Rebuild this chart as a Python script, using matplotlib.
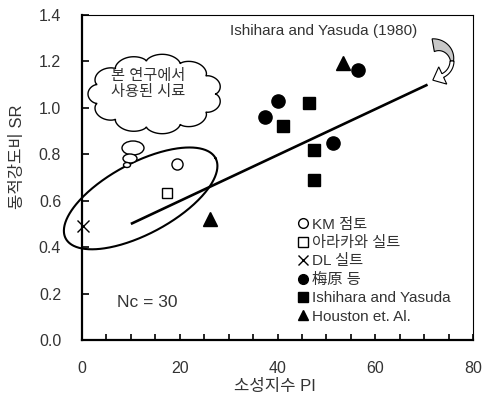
import numpy as np
import matplotlib
matplotlib.use('Agg')
import matplotlib.pyplot as plt
from matplotlib.patches import Ellipse, Polygon
from matplotlib.lines import Line2D

plt.rcParams['font.family'] = ['Liberation Sans', 'Noto Sans CJK KR', 'DejaVu Sans']
txt_col = '#333333'

# values (PI, SR)
km_pi = [19.5]
km_sr = [0.76]
arakawa_pi = [17.4]
arakawa_sr = [0.635]
dl_pi = [0.2]
dl_sr = [0.49]
umehara_pi = [37.5, 40.2, 51.4, 56.4]
umehara_sr = [0.96, 1.03, 0.85, 1.165]
ishihara_pi = [41.2, 46.4, 47.5, 47.5]
ishihara_sr = [0.92, 1.02, 0.82, 0.69]
houston_pi = [26.2, 53.4]
houston_sr = [0.52, 1.195]
trend_pi = [10, 70.7]   # Ishihara and Yasuda (1980) line
trend_sr = [0.5, 1.1]

legend_labels = ['KM 점토', '아라카와 실트', 'DL 실트', '梅原 등',
                 'Ishihara and Yasuda', 'Houston et. Al.']

W, H = 484, 396
fig = plt.figure(figsize=(W / 100, H / 100), dpi=100)
ax = fig.add_axes([82 / W, 1 - 340 / H, (473 - 82) / W, (340 - 15) / H])
ax.set_xlim(0, 80)
ax.set_ylim(0, 1.4)

ax.plot(trend_pi, trend_sr, color='k', lw=1.9, solid_capstyle='butt')

ax.plot(km_pi, km_sr, 'o', ms=8, mfc='white', mec='k', mew=1)
ax.plot(arakawa_pi, arakawa_sr, 's', ms=7.5, mfc='white', mec='k', mew=1)
ax.plot(dl_pi, dl_sr, 'x', ms=9, mec='k', mew=1, clip_on=False)
ax.plot(umehara_pi, umehara_sr, 'o', ms=9.5, color='k')
ax.plot(ishihara_pi, ishihara_sr, 's', ms=8.5, color='k')
ax.plot(houston_pi, houston_sr, '^', ms=9.5, color='k')

# ellipse around the samples of this study (drawn in pixel proportions)
sx = (473 - 82) / 80
sy = (340 - 15) / 1.4
t = np.linspace(0, 2 * np.pi, 400)
a, b, th = 85, 35.5, np.radians(28.2)
dx = a * np.cos(t) * np.cos(th) - b * np.sin(t) * np.sin(th)
dy = a * np.cos(t) * np.sin(th) + b * np.sin(t) * np.cos(th)
ax.plot(12.0 + dx / sx, 0.61 + dy / sy, color='k', lw=1.5, clip_on=False)

ax.text(49.4, 1.33, 'Ishihara and Yasuda (1980)', ha='center', va='center',
        fontsize=11, color=txt_col)
ax.text(7.2, 0.16, 'Nc = 30', ha='left', va='center', fontsize=12.5, color=txt_col)

ax.set_xticks([0, 20, 40, 60, 80])
ax.set_xticks(np.arange(0, 81, 5), minor=True)
ax.set_yticks(np.arange(0, 1.41, 0.2))
ax.set_yticklabels([f'{v:.1f}' for v in np.arange(0, 1.41, 0.2)])
ax.tick_params(axis='both', which='both', direction='in', labelsize=11.5,
               labelcolor=txt_col, width=1.2, pad=15)
ax.tick_params(axis='x', which='both', length=4)
ax.tick_params(axis='y', which='major', length=5)
ax.tick_params(axis='y', which='minor', length=0)
for side in ['left', 'bottom']:
    ax.spines[side].set_linewidth(1.6)
for side in ['top', 'right']:
    ax.spines[side].set_linewidth(0.8)

ax.set_xlabel('소성지수 PI', fontsize=12, color=txt_col)
ax.set_ylabel('동적강도비 SR', fontsize=12, color=txt_col)
ax.xaxis.set_label_coords(0.494, -0.12)
ax.yaxis.set_label_coords(-0.145, 0.563)

handles = [
    Line2D([], [], ls='none', marker='o', ms=7, mfc='white', mec='k', mew=1),
    Line2D([], [], ls='none', marker='s', ms=7, mfc='white', mec='k', mew=1),
    Line2D([], [], ls='none', marker='x', ms=7, mec='k', mew=1),
    Line2D([], [], ls='none', marker='o', ms=7, color='k'),
    Line2D([], [], ls='none', marker='s', ms=7, color='k'),
    Line2D([], [], ls='none', marker='^', ms=7, color='k'),
]
leg = ax.legend(handles, legend_labels, loc='lower left', bbox_to_anchor=(0.55, 0.05),
                frameon=False, fontsize=11, handlelength=0.8, handletextpad=0.2,
                labelspacing=0.29, borderpad=0, borderaxespad=0)
for tx in leg.get_texts():
    tx.set_color(txt_col)

# overlay in image pixels for the callout cloud and the curved arrow
ov = fig.add_axes([0, 0, 1, 1], zorder=5)
ov.set_xlim(0, W)
ov.set_ylim(H, 0)
ov.axis('off')
ov.patch.set_alpha(0)

cx, cy, rx, ry, n, A = 155, 94, 67, 40, 11, 7
tt = np.linspace(0, 2 * np.pi, 800)
s = np.abs(np.sin(n * tt / 2)) ** 0.6
cloud = np.column_stack([cx + np.cos(tt) * (rx - A + A * s),
                         cy + np.sin(tt) * (ry - A + A * s)])
ov.add_patch(Polygon(cloud, closed=True, fc='white', ec='k', lw=1))
for (ex, ey, ew, eh) in [(133, 148, 22, 14), (130, 158.5, 14, 9), (127, 165, 7, 5)]:
    ov.add_patch(Ellipse((ex, ey), ew, eh, fc='white', ec='k', lw=1))
ov.text(148, 84, '본 연구에서\n사용된 시료', ha='center', va='center',
        fontsize=11, linespacing=1.2, color=txt_col)

# curved arrow pointing at the line
C = np.array([436.0, 61.0])
R = 16.0
ph1 = np.radians(np.linspace(-100, 0, 40))
w1 = np.linspace(13, 3, 40)
outer1 = C + (R + w1 / 2)[:, None] * np.column_stack([np.cos(ph1), np.sin(ph1)])
inner1 = C + (R - w1 / 2)[:, None] * np.column_stack([np.cos(ph1), np.sin(ph1)])
ov.add_patch(Polygon(np.vstack([outer1, inner1[::-1]]), closed=True,
                     fc='#c8c8c8', ec='k', lw=0.8))
ph2 = np.radians(np.linspace(0, 65, 30))
w2 = 4.0
nrm = np.column_stack([np.cos(ph2), np.sin(ph2)])
outer2 = C + (R + w2 / 2) * nrm
inner2 = C + (R - w2 / 2) * nrm
pe = C + R * nrm[-1]
tang = np.array([-np.sin(ph2[-1]), np.cos(ph2[-1])])
head = [pe + 9.5 * nrm[-1], pe + 11 * tang, pe - 9.5 * nrm[-1]]
ov.add_patch(Polygon(np.vstack([outer2, head, inner2[::-1]]), closed=True,
                     fc='white', ec='k', lw=0.8))

fig.savefig('out.png', dpi=100)
